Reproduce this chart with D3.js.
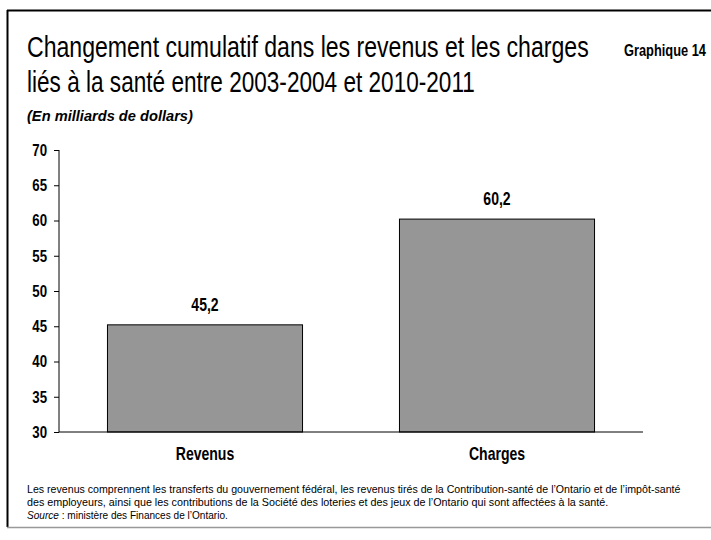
<!doctype html>
<html>
  <head>
    <meta charset="utf-8">
    <script src="https://cdn.jsdelivr.net/npm/d3@7/dist/d3.min.js"></script>
    <style>
      body { margin: 0; background: #fff; }
      svg { display: block; font-family: "Liberation Sans", Arial, sans-serif; }
      .axis path, .axis line { stroke: #000; }
    </style>
  </head>
  <body>
    <svg width="711" height="540"></svg>
    <script>
      var categories = ["Revenus", "Charges"];
      var values = [45.2, 60.2];
      var valueLabels = ["45,2", "60,2"];
      var yTicks = [30, 35, 40, 45, 50, 55, 60, 65, 70];

      var squeeze = 0.78; // police étroite simulée

      var svg = d3.select("svg");

      // ajuste un texte à une largeur donnée en le comprimant horizontalement
      function fitText(sel, x0, y0, w) {
        sel.attr("x", 0).attr("y", 0);
        var natural = sel.node().getComputedTextLength();
        sel.attr("transform", `translate(${x0},${y0}) scale(${w / natural},1)`);
        return sel;
      }

      // cadre : haut et gauche noirs, bas gris
      svg.append("line").attr("x1", 7).attr("x2", 711).attr("y1", 10.5).attr("y2", 10.5)
        .attr("stroke", "#000").attr("stroke-width", 2);
      svg.append("line").attr("x1", 7.5).attr("x2", 7.5).attr("y1", 10).attr("y2", 527)
        .attr("stroke", "#000").attr("stroke-width", 2);
      svg.append("line").attr("x1", 7).attr("x2", 711).attr("y1", 527.5).attr("y2", 527.5)
        .attr("stroke", "#999").attr("stroke-width", 1.5);

      fitText(svg.append("text").style("font-size", "30px")
        .text("Changement cumulatif dans les revenus et les charges"), 27, 57, 562);
      fitText(svg.append("text").style("font-size", "30px")
        .text("liés à la santé entre 2003-2004 et 2010-2011"), 27, 92, 448);

      fitText(svg.append("text")
        .style("font-size", "16px").style("font-weight", "bold")
        .text("Graphique 14"), 624, 56, 82);

      fitText(svg.append("text")
        .style("font-size", "14px").style("font-weight", "bold").style("font-style", "italic")
        .text("(En milliards de dollars)"), 27, 121, 166);

      var margin = {left: 59, right: 68, top: 150, bottom: 108};
      var width = 711 - margin.left - margin.right;
      var height = 540 - margin.top - margin.bottom;

      var g = svg.append("g")
        .attr("transform", `translate(${margin.left},${margin.top})`);

      var x = d3.scaleBand()
        .domain(categories)
        .range([0, width])
        .paddingInner(0.332)
        .paddingOuter(0.166);

      var y = d3.scaleLinear()
        .domain([30, 70])
        .range([height, 0]);

      g.selectAll("rect.bar")
        .data(values)
        .enter()
        .append("rect")
          .attr("class", "bar")
          .attr("x", (d, i) => x(categories[i]))
          .attr("y", d => y(d))
          .attr("width", x.bandwidth())
          .attr("height", d => height - y(d))
          .style("fill", "#969696")
          .style("stroke", "#000")
          .style("stroke-width", 1);

      g.selectAll("text.val")
        .data(values)
        .enter()
        .append("text")
          .attr("class", "val")
          .attr("transform", (d, i) =>
            `translate(${x(categories[i]) + x.bandwidth() / 2},${y(d) - 14}) scale(${squeeze},1)`)
          .attr("text-anchor", "middle")
          .style("font-size", "18px").style("font-weight", "bold")
          .text((d, i) => valueLabels[i]);

      var yAxis = g.append("g").attr("class", "axis")
        .call(d3.axisLeft(y).tickValues(yTicks).tickSize(5).tickPadding(7));
      yAxis.attr("font-family", null).attr("font-size", null);
      yAxis.select(".domain").attr("d", `M0,0V${height}`);
      yAxis.selectAll("text")
        .style("font-size", "17px").style("font-weight", "bold")
        .attr("fill", "#000")
        .attr("x", -12 / squeeze)
        .attr("transform", `scale(${squeeze},1)`);

      var xAxis = g.append("g").attr("class", "axis")
        .attr("transform", `translate(0,${height})`)
        .call(d3.axisBottom(x).tickSize(0).tickPadding(15));
      xAxis.attr("font-family", null).attr("font-size", null);
      xAxis.select(".domain").attr("d", `M0,0H${width}`).attr("stroke", "#555");
      xAxis.selectAll("text")
        .style("font-size", "18px").style("font-weight", "bold")
        .attr("fill", "#000")
        .attr("transform", `scale(${squeeze},1)`);

      var foot = svg.append("g").style("font-size", "10.7px").attr("fill", "#000");
      fitText(foot.append("text")
        .text("Les revenus comprennent les transferts du gouvernement fédéral, les revenus tirés de la Contribution-santé de l’Ontario et de l’impôt-santé"),
        27, 493, 653);
      fitText(foot.append("text")
        .text("des employeurs, ainsi que les contributions de la Société des loteries et des jeux de l’Ontario qui sont affectées à la santé."),
        27, 506, 581);
      var src = foot.append("text");
      src.append("tspan").style("font-style", "italic").text("Source");
      src.append("tspan").text(" : ministère des Finances de l’Ontario.");
      fitText(src, 27, 519, 201);
    </script>
  </body>
</html>
